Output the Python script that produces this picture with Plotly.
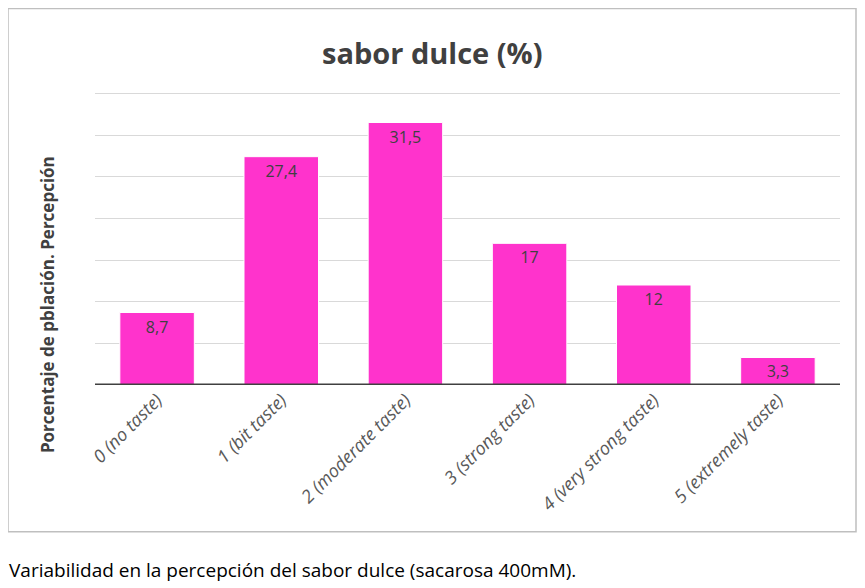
import plotly.graph_objects as go

categories = ["0 (no taste)", "1 (bit taste)", "2 (moderate taste)", "3 (strong taste)",
              "4 (very strong taste)", "5 (extremely taste)"]
values = [8.7, 27.4, 31.5, 17, 12, 3.3]
value_labels = ["8,7", "27,4", "31,5", "17", "12", "3,3"]
y_gridvals = [0, 5, 10, 15, 20, 25, 30, 35]
y_max = 36

OFF = 8  # page body margin
W, H = 865 - OFF, 588 - OFF
PPU = (385 - 93) / 35.0  # pixels per unit (35 -> y=93, 0 -> y=385)
L, R, B = 95 - OFF, 840 - OFF, 385 - OFF
T = B - y_max * PPU


def px(x):
    return (x - OFF - L) / (R - L)


def py(y):
    return (B - (y - OFF)) / (B - T)


FONT = "Open Sans, Liberation Sans, sans-serif"

fig = go.Figure()
fig.add_trace(go.Bar(
    x=categories, y=values, text=value_labels,
    textposition="inside", insidetextanchor="end",
    textfont=dict(family=FONT, size=16, color="#404040"),
    marker=dict(color="#FF33CC", line=dict(color="white", width=1)),
    cliponaxis=False,
))

fig.update_layout(
    width=W, height=H,
    margin=dict(l=L, r=W - R, t=T, b=H - B),
    paper_bgcolor="white", plot_bgcolor="white",
    bargap=0.4,
    showlegend=False,
    font=dict(family=FONT),
    xaxis=dict(
        tickangle=-45,
        tickfont=dict(family=FONT, size=18, color="#595959", style="italic"),
        showgrid=False, showline=False, ticks="", zeroline=False,
    ),
    yaxis=dict(
        range=[0, y_max], tickvals=y_gridvals, showticklabels=False,
        showgrid=True, gridcolor="#D9D9D9", gridwidth=1,
        zeroline=False, showline=False, ticks="",
    ),
    shapes=[
        dict(type="line", xref="paper", yref="y", x0=0, x1=1, y0=0, y1=0,
             line=dict(color="#404040", width=3)),
        dict(type="rect", xref="paper", yref="paper",
             x0=px(8), x1=px(856), y0=py(532), y1=py(8),
             line=dict(color="#BFBFBF", width=1.5), layer="below"),
    ],
    annotations=[
        dict(text="<b>sabor dulce (%)</b>", xref="paper", yref="paper",
             x=px(432), y=py(52), showarrow=False, xanchor="center", yanchor="middle",
             font=dict(family=FONT, size=29, color="#404040")),
        dict(text="<b>Porcentaje de pblación. Percepción</b>", xref="paper", yref="paper",
             x=px(47), y=py(305), showarrow=False, textangle=-90,
             xanchor="center", yanchor="middle",
             font=dict(family=FONT, size=17, color="#404040")),
        dict(text="Variabilidad en la percepción del sabor dulce (sacarosa 400mM).",
             xref="paper", yref="paper", x=px(7), y=py(570), showarrow=False,
             xanchor="left", yanchor="middle",
             font=dict(family=FONT, size=19, color="#000000")),
    ],
)

fig.write_html("out.html")
